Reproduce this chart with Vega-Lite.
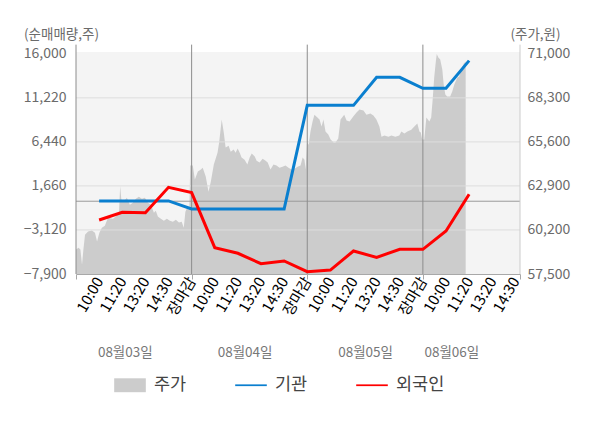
{
  "$schema": "https://vega.github.io/schema/vega-lite/v6.json",
  "width": 444,
  "height": 222,
  "autosize": {"type": "none"},
  "padding": {"left": 76, "top": 52, "right": 80, "bottom": 154},
  "config": {
    "font": "Noto Sans CJK KR",
    "view": {"fill": "#f4f4f4", "stroke": null}
  },
  "datasets": {
    "price": [
      {"t":0,"p":59000},{"t":0.11,"p":59110},{"t":0.19,"p":59000},{"t":0.26,"p":58070},{"t":0.32,"p":59000},{"t":0.39,"p":59910},{"t":0.52,"p":60110},{"t":0.69,"p":60160},{"t":0.82,"p":60030},{"t":0.91,"p":59500},{"t":1.01,"p":60030},{"t":1.12,"p":60340},{"t":1.25,"p":60460},{"t":1.38,"p":60950},{"t":1.6,"p":60890},{"t":1.77,"p":61080},{"t":1.86,"p":61320},{"t":1.91,"p":62880},{"t":1.96,"p":62060},{"t":2.07,"p":61940},{"t":2.2,"p":62180},{"t":2.33,"p":61750},{"t":2.46,"p":61870},{"t":2.59,"p":62120},{"t":2.72,"p":62240},{"t":2.85,"p":62120},{"t":2.98,"p":62180},{"t":3.11,"p":61870},{"t":3.24,"p":61750},{"t":3.37,"p":61260},{"t":3.45,"p":61380},{"t":3.54,"p":61020},{"t":3.67,"p":60890},{"t":3.8,"p":60770},{"t":3.93,"p":60890},{"t":4.06,"p":60770},{"t":4.19,"p":60710},{"t":4.32,"p":60830},{"t":4.45,"p":60650},{"t":4.57,"p":60710},{"t":4.66,"p":60340},{"t":4.73,"p":61320},{"t":4.79,"p":61510},{"t":4.9,"p":61450},
      {"t":4.94,"p":64150},{"t":5.05,"p":64150},{"t":5.14,"p":63290},{"t":5.27,"p":63780},{"t":5.4,"p":63900},{"t":5.48,"p":64020},{"t":5.61,"p":63470},{"t":5.73,"p":62550},{"t":5.83,"p":63160},{"t":5.96,"p":64210},{"t":6.12,"p":64940},{"t":6.19,"p":65560},{"t":6.3,"p":66970},{"t":6.39,"p":66170},{"t":6.47,"p":65250},{"t":6.6,"p":65370},{"t":6.69,"p":65000},{"t":6.82,"p":65130},{"t":6.9,"p":64940},{"t":6.99,"p":65190},{"t":7.08,"p":64940},{"t":7.16,"p":64640},{"t":7.29,"p":64510},{"t":7.41,"p":64210},{"t":7.51,"p":64640},{"t":7.6,"p":64880},{"t":7.73,"p":64700},{"t":7.81,"p":64450},{"t":7.94,"p":64330},{"t":8.07,"p":64570},{"t":8.2,"p":64450},{"t":8.29,"p":64330},{"t":8.41,"p":63900},{"t":8.54,"p":64210},{"t":8.67,"p":64150},{"t":8.8,"p":64020},{"t":8.93,"p":64080},{"t":9.06,"p":64150},{"t":9.19,"p":64020},{"t":9.32,"p":63900},{"t":9.45,"p":63960},{"t":9.58,"p":64080},{"t":9.71,"p":64150},{"t":9.8,"p":64640},{"t":9.88,"p":64510},{"t":9.93,"p":63900},
      {"t":9.99,"p":65560},{"t":10.06,"p":65430},{"t":10.14,"p":66230},{"t":10.23,"p":66850},{"t":10.31,"p":67270},{"t":10.44,"p":67090},{"t":10.53,"p":66970},{"t":10.62,"p":66540},{"t":10.7,"p":66970},{"t":10.79,"p":66230},{"t":10.91,"p":66050},{"t":11.01,"p":65740},{"t":11.14,"p":65560},{"t":11.22,"p":65560},{"t":11.34,"p":65800},{"t":11.44,"p":66970},{"t":11.6,"p":67270},{"t":11.7,"p":66910},{"t":11.83,"p":66850},{"t":11.99,"p":67150},{"t":12.13,"p":67400},{"t":12.26,"p":67580},{"t":12.43,"p":67520},{"t":12.56,"p":67270},{"t":12.73,"p":67340},{"t":12.86,"p":67210},{"t":12.99,"p":66970},{"t":13.12,"p":66540},{"t":13.21,"p":65920},{"t":13.34,"p":65990},{"t":13.51,"p":65920},{"t":13.64,"p":65990},{"t":13.81,"p":65920},{"t":13.98,"p":65990},{"t":14.07,"p":66230},{"t":14.2,"p":66110},{"t":14.33,"p":66230},{"t":14.5,"p":66350},{"t":14.63,"p":66540},{"t":14.76,"p":66720},{"t":14.85,"p":66230},{"t":14.91,"p":66170},
      {"t":14.97,"p":65740},{"t":15.06,"p":65740},{"t":15.15,"p":67090},{"t":15.28,"p":66850},{"t":15.36,"p":67090},{"t":15.43,"p":68320},{"t":15.49,"p":69550},{"t":15.56,"p":70530},{"t":15.6,"p":70980},{"t":15.67,"p":70770},{"t":15.75,"p":70650},{"t":15.84,"p":70040},{"t":15.9,"p":69120},{"t":15.97,"p":68500},{"t":16.05,"p":68380},{"t":16.18,"p":68380},{"t":16.27,"p":68690},{"t":16.36,"p":69120},{"t":16.49,"p":69550},{"t":16.57,"p":69610},{"t":16.66,"p":70040},{"t":16.77,"p":70400},{"t":16.85,"p":70530}
    ],
    "flow": [
      {"k":1,"v":30,"s":"기관"},{"k":2,"v":30,"s":"기관"},{"k":3,"v":30,"s":"기관"},{"k":4,"v":30,"s":"기관"},{"k":5,"v":-840,"s":"기관"},{"k":6,"v":-840,"s":"기관"},{"k":7,"v":-840,"s":"기관"},{"k":8,"v":-840,"s":"기관"},{"k":9,"v":-840,"s":"기관"},{"k":10,"v":10410,"s":"기관"},{"k":11,"v":10410,"s":"기관"},{"k":12,"v":10410,"s":"기관"},{"k":13,"v":13450,"s":"기관"},{"k":14,"v":13450,"s":"기관"},{"k":15,"v":12260,"s":"기관"},{"k":16,"v":12260,"s":"기관"},{"k":17,"v":15260,"s":"기관"},
      {"k":1,"v":-2040,"s":"외국인"},{"k":2,"v":-1200,"s":"외국인"},{"k":3,"v":-1240,"s":"외국인"},{"k":4,"v":1510,"s":"외국인"},{"k":5,"v":930,"s":"외국인"},{"k":6,"v":-5045,"s":"외국인"},{"k":7,"v":-5650,"s":"외국인"},{"k":8,"v":-6780,"s":"외국인"},{"k":9,"v":-6490,"s":"외국인"},{"k":10,"v":-7650,"s":"외국인"},{"k":11,"v":-7470,"s":"외국인"},{"k":12,"v":-5400,"s":"외국인"},{"k":13,"v":-6090,"s":"외국인"},{"k":14,"v":-5220,"s":"외국인"},{"k":15,"v":-5220,"s":"외국인"},{"k":16,"v":-3230,"s":"외국인"},{"k":17,"v":750,"s":"외국인"}
    ],
    "grid": [{"v":-3120},{"v":0},{"v":1660},{"v":6440},{"v":11220}],
    "days": [{"t":0},{"t":5},{"t":10},{"t":15},{"t":19.2}]
  },
  "layer": [
    {
      "data": {"name": "price"},
      "mark": {"type": "area", "interpolate": "linear"},
      "encoding": {
        "x": {
          "field": "t", "type": "quantitative",
          "scale": {"domain": [0, 19.2], "nice": false, "zero": false},
          "axis": {
            "orient": "bottom",
            "values": [1,2,3,4,5,6,7,8,9,10,11,12,13,14,15,16,17,18,19],
            "labelExpr": "['10:00','11:20','13:20','14:30','장마감'][(datum.value - 1) % 5]",
            "labelAngle": -60, "labelAlign": "right", "labelBaseline": "middle",
            "labelFontSize": 15, "labelPadding": 4, "labelLimit": 0, "labelOverlap": false, "labelFlush": false, "labelBound": false,
            "ticks": false, "grid": false, "domain": true, "domainColor": "#a8a8a8", "title": null,
            "encode": {"labels": {"update": {
              "fill": {"signal": "datum.value % 5 === 0 ? '#ff0000' : (datum.value === 16 ? '#222222' : '#6b6b6b')"}
            }}}
          }
        },
        "y": {
          "field": "p", "type": "quantitative",
          "scale": {"domain": [57500, 71110], "nice": false, "zero": false},
          "axis": {
            "orient": "right",
            "values": [57500, 60200, 62900, 65600, 68300, 71000],
            "format": ",.0f", "ticks": false, "domain": false, "grid": false,
            "labelPadding": 7, "labelFontSize": 14, "labelColor": "#6b6b6b",
            "title": "(주가,원)", "titleAngle": 0, "titleX": 15, "titleY": -18,
            "titleAlign": "center", "titleBaseline": "middle", "titleFontSize": 13.5,
            "titleFontWeight": "normal", "titleColor": "#6b6b6b"
          }
        },
        "y2": {"datum": 57500},
        "color": {
          "datum": "주가", "type": "nominal",
          "scale": {"domain": ["주가", "기관", "외국인"], "range": ["#cccccc", "#0a7fcf", "#ff0000"]},
          "legend": {
            "title": null, "orient": "none", "direction": "horizontal",
            "legendX": 38, "legendY": 317, "padding": 0,
            "columnPadding": 48, "labelOffset": 8,
            "symbolSize": 1000, "labelFontSize": 17.5, "labelColor": "#444444",
            "encode": {"symbols": {"update": {
              "shape": {"signal": "datum.value === '주가' ? 'M-1,-0.44H1V0.44H-1Z' : 'M-1,-0.055H1V0.055H-1Z'"},
              "fill": {"signal": "scale('color', datum.value)"},
              "strokeWidth": {"value": 0},
              "opacity": {"value": 1}
            }}}
          }
        }
      }
    },
    {
      "data": {"name": "grid"},
      "mark": {"type": "rule", "strokeWidth": 1},
      "encoding": {
        "y": {
          "field": "v", "type": "quantitative",
          "scale": {"domain": [-7900, 16200], "nice": false, "zero": false},
          "axis": {
            "orient": "left",
            "values": [-7900, -3120, 1660, 6440, 11220, 16000],
            "format": ",.0f", "ticks": false, "domain": false, "grid": false,
            "labelPadding": 10, "labelFontSize": 14, "labelColor": "#6b6b6b",
            "title": "(순매매량,주)", "titleAngle": 0, "titleX": -15, "titleY": -18,
            "titleAlign": "center", "titleBaseline": "middle", "titleFontSize": 13.5,
            "titleFontWeight": "normal", "titleColor": "#6b6b6b"
          }
        },
        "color": {"condition": {"test": "datum.v === 0", "value": "#9a9a9a"}, "value": "#dddddd"}
      }
    },
    {
      "data": {"name": "days"},
      "mark": {"type": "rule", "strokeWidth": 1},
      "encoding": {
        "x": {
          "field": "t", "type": "quantitative",
          "scale": {"domain": [0, 19.2], "nice": false, "zero": false},
          "axis": {
            "orient": "bottom",
            "values": [0, 5, 10, 15, 19.2],
            "labels": false, "ticks": true, "tickSize": 5, "tickColor": "#a8a8a8",
            "domain": false, "grid": false, "title": null
          }
        },
        "y": {"datum": -7900, "type": "quantitative", "scale": {"domain": [-7900, 16200], "nice": false, "zero": false}, "axis": null},
        "y2": {"datum": 17000},
        "color": {"condition": {"test": "datum.t > 19", "value": "#cccccc"}, "value": "#8c8c8c"}
      }
    },
    {
      "data": {"name": "flow"},
      "mark": {"type": "line", "strokeWidth": 3, "interpolate": "linear"},
      "encoding": {
        "x": {
          "field": "k", "type": "quantitative",
          "scale": {"domain": [0, 19.2], "nice": false, "zero": false},
          "axis": {
            "orient": "bottom",
            "values": [2.11, 7.29, 12.5, 16.23],
            "labelExpr": "datum.value < 4 ? '08월03일' : datum.value < 9 ? '08월04일' : datum.value < 14 ? '08월05일' : '08월06일'",
            "labelAngle": 0, "labelAlign": "center", "labelBaseline": "middle",
            "labelPadding": 78, "labelFontSize": 13.5, "labelColor": "#777777",
            "labelOverlap": false, "labelFlush": false, "labelBound": false,
            "ticks": false, "domain": false, "grid": false, "title": null
          }
        },
        "y": {"field": "v", "type": "quantitative", "scale": {"domain": [-7900, 16200], "nice": false, "zero": false}, "axis": null},
        "color": {
          "field": "s", "type": "nominal",
          "scale": {"domain": ["주가", "기관", "외국인"], "range": ["#cccccc", "#0a7fcf", "#ff0000"]},
          "legend": {
            "title": null, "orient": "none", "direction": "horizontal",
            "legendX": 38, "legendY": 317, "padding": 0,
            "columnPadding": 48, "labelOffset": 8,
            "symbolSize": 1000, "labelFontSize": 17.5, "labelColor": "#444444",
            "encode": {"symbols": {"update": {
              "shape": {"signal": "datum.value === '주가' ? 'M-1,-0.44H1V0.44H-1Z' : 'M-1,-0.055H1V0.055H-1Z'"},
              "fill": {"signal": "scale('color', datum.value)"},
              "strokeWidth": {"value": 0},
              "opacity": {"value": 1}
            }}}
          }
        }
      }
    }
  ],
  "resolve": {"scale": {"y": "independent"}, "axis": {"x": "independent", "y": "independent"}}
}
